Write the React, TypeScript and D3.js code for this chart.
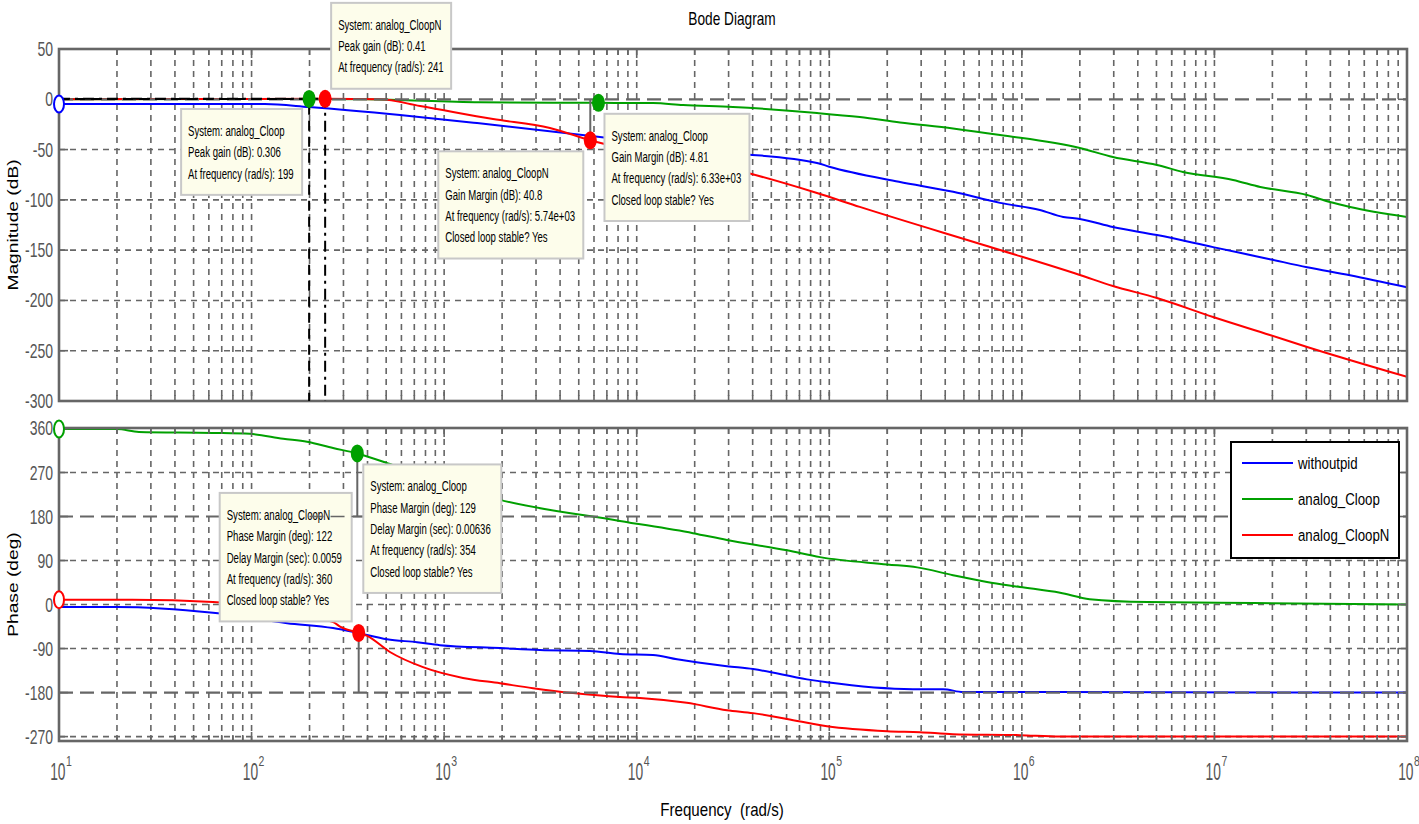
import React, { useRef, useEffect } from 'react';
import * as d3 from 'd3';

const WIDTH = 1419;
const HEIGHT = 824;

// ---- series ----
const seriesNames = ['withoutpid', 'analog_Cloop', 'analog_CloopN'];
const seriesColors = ['#0000ff', '#00a000', '#ff0000'];

// ---- axis ticks ----
const magTicks = [50, 0, -50, -100, -150, -200, -250, -300];
const phaseTicks = [360, 270, 180, 90, 0, -90, -180, -270];
const decadeExps = [1, 2, 3, 4, 5, 6, 7, 8];

// ---- magnitude (dB) ----
const blueMagFreq = [10, 117, 199, 590, 1482, 6440, 31600, 86300, 1e5, 2.3e5, 4.4e5, 7.7e5, 1.24e6, 1.64e6, 2e6, 2.97e6, 5.03e6, 9.84e6, 1.94e7, 3.03e7, 5.06e7, 1e8];
const blueMagDb = [-4.7, -4.7, -7.7, -15.6, -23.6, -37.5, -53.4, -63.3, -67, -82, -92, -103, -110, -117, -119, -127, -135, -147, -159, -167, -175, -187];

const greenMagFreq = [10, 199, 400, 1536, 6330, 12150, 17400, 31600, 86300, 144000, 233000, 439000, 771000, 2e6, 2.97e6, 5.03e6, 6.87e6, 1.25e7, 1.73e7, 3.03e7, 3.98e7, 5.06e7, 1e8];
const greenMagDb = [0, 0.3, 0, -3, -3.5, -3.8, -5.7, -7.7, -13.6, -17.7, -23, -29, -35.5, -48.4, -57.4, -65.3, -72.3, -80.2, -87.2, -95.2, -102.2, -107.1, -117];

const redMagFreq = [10, 241, 464, 750, 1794, 3545, 5740, 37800, 86300, 144000, 771000, 2e6, 2.97e6, 5.03e6, 9.84e6, 1.94e7, 3.03e7, 1e8];
const redMagDb = [0, 0.41, 0, -6.7, -19.7, -28.5, -40.8, -73.3, -93.2, -107, -149.9, -174.7, -185.6, -197.6, -216.5, -234.4, -246.3, -276];

// ---- phase (deg) ----
const bluePhFreq = [10, 20, 63, 153, 265, 357, 505, 723, 951, 1950, 3145, 5720, 8180, 12150, 16200, 29400, 40200, 76600, 97300, 272000, 390000, 495000, 1.58e6, 1e8];
const bluePhDeg = [-5, -5, -17, -38, -48, -58, -71, -77, -83, -89, -93, -95, -101, -103, -112, -126, -132, -153, -159, -173, -173, -179, -179, -180];

const greenPhFreq = [10, 20, 26, 63, 98, 146, 194, 265, 354, 543, 1950, 8180, 19600, 29400, 60300, 89500, 200000, 286000, 439000, 659000, 978000, 1.58e6, 2.25e6, 4.5e6, 1.6e7, 1e8];
const greenPhDeg = [359, 359, 353, 351, 349, 339, 333, 320, 309, 285, 214, 171, 146, 132, 111, 97, 82, 76, 60, 46, 36, 24, 11, 5, 3, 0];

const redPhFreq = [10, 24, 63, 265, 288, 360, 398, 523, 777, 1253, 1950, 2893, 4670, 8180, 10400, 18200, 29400, 40200, 60300, 97300, 200000, 296000, 439000, 978000, 1.58e6, 1e8];
const redPhDeg = [10, 10, 5, -36, -45, -58, -64, -97, -128, -150, -161, -171, -181, -189, -191, -201, -216, -222, -234, -249, -259, -261, -265, -267, -270, -270];

// ---- characteristic points ----
const peakFreq = [199, 241]; // analog_Cloop, analog_CloopN
const peakDb = [0.306, 0.41];
const gmFreq = [6330, 5740];
const gmDb = [-3.5, -40.8];
const pmFreq = [354, 360];
const pmDeg = [309, -58];

// ---- data tip texts ----
const tipPeakCloop = ['System: analog_Cloop', 'Peak gain (dB): 0.306', 'At frequency (rad/s): 199'];
const tipPeakCloopN = ['System: analog_CloopN', 'Peak gain (dB): 0.41', 'At frequency (rad/s): 241'];
const tipGmCloop = ['System: analog_Cloop', 'Gain Margin (dB): 4.81', 'At frequency (rad/s): 6.33e+03', 'Closed loop stable? Yes'];
const tipGmCloopN = ['System: analog_CloopN', 'Gain Margin (dB): 40.8', 'At frequency (rad/s): 5.74e+03', 'Closed loop stable? Yes'];
const tipPmCloop = ['System: analog_Cloop', 'Phase Margin (deg): 129', 'Delay Margin (sec): 0.00636', 'At frequency (rad/s): 354', 'Closed loop stable? Yes'];
const tipPmCloopN = ['System: analog_CloopN', 'Phase Margin (deg): 122', 'Delay Margin (sec): 0.0059', 'At frequency (rad/s): 360', 'Closed loop stable? Yes'];

const FONT = 'Liberation Sans, Arial, sans-serif';
const GRAY = '#666666';

const App: React.FC = () => {
  const svgRef = useRef<SVGSVGElement>(null);

  useEffect(() => {
    if (!svgRef.current) return;
    const svg = d3.select(svgRef.current);
    svg.selectAll('*').remove();

    const left = 59;
    const right = 1407;
    const magTop = 49;
    const magBottom = 401;
    const phTop = 428;
    const phBottom = 741;

    const x = d3.scaleLog().domain([10, 1e8]).range([left, right]);
    const yMag = d3.scaleLinear().domain([-300, 50]).range([magBottom, magTop]);
    const yPh = d3.scaleLinear().domain([-279, 361]).range([phBottom, phTop]);

    const addText = (
      g: d3.Selection<any, unknown, null, undefined>,
      tx: number, ty: number, str: string,
      size: number, sx: number, anchor = 'start', fill = '#000', rotate = 0
    ) => {
      g.append('text')
        .attr('transform', `translate(${tx},${ty}) rotate(${rotate}) scale(${sx},1)`)
        .attr('text-anchor', anchor)
        .attr('font-family', FONT)
        .attr('font-size', size)
        .attr('fill', fill)
        .style('white-space', 'pre')
        .text(str);
    };

    // clip paths
    const defs = svg.append('defs');
    defs.append('clipPath').attr('id', 'clipMag')
      .append('rect').attr('x', left).attr('y', magTop).attr('width', right - left).attr('height', magBottom - magTop);
    defs.append('clipPath').attr('id', 'clipPh')
      .append('rect').attr('x', left).attr('y', phTop).attr('width', right - left).attr('height', phBottom - phTop);

    // grid frequencies
    const gridFreqs: { f: number; major: boolean }[] = [];
    for (let d = 1; d < 8; d++) {
      for (let m = 1; m <= 9; m++) gridFreqs.push({ f: m * Math.pow(10, d), major: m === 1 });
    }
    gridFreqs.push({ f: 1e8, major: true });

    const drawPanel = (
      top: number, bottom: number,
      yScale: d3.ScaleLinear<number, number>,
      ticks: number[], special: number[]
    ) => {
      const g = svg.append('g');
      // vertical grid
      gridFreqs.forEach(({ f }) => {
        const px = x(f);
        if (px <= left + 1 || px >= right - 1) return;
        g.append('line')
          .attr('x1', px).attr('x2', px).attr('y1', top).attr('y2', bottom)
          .attr('stroke', GRAY).attr('stroke-width', 1.6).attr('stroke-dasharray', '6,5');
      });
      // horizontal grid
      ticks.forEach(t => {
        const py = yScale(t);
        if (special.includes(t) || py <= top + 1 || py >= bottom - 1) return;
        g.append('line')
          .attr('x1', left).attr('x2', right).attr('y1', py).attr('y2', py)
          .attr('stroke', GRAY).attr('stroke-width', 1.6).attr('stroke-dasharray', '6,5');
      });
      return g;
    };

    const drawSpecial = (yScale: d3.ScaleLinear<number, number>, vals: number[]) => {
      vals.forEach(v => {
        svg.append('line')
          .attr('x1', left).attr('x2', right).attr('y1', yScale(v)).attr('y2', yScale(v))
          .attr('stroke', GRAY).attr('stroke-width', 2.2).attr('stroke-dasharray', '14,7');
      });
    };

    const drawFrame = (
      top: number, bottom: number,
      yScale: d3.ScaleLinear<number, number>, ticks: number[]
    ) => {
      const g = svg.append('g');
      gridFreqs.forEach(({ f, major }) => {
        const px = x(f);
        const len = major ? 9 : 6;
        g.append('line').attr('x1', px).attr('x2', px).attr('y1', bottom).attr('y2', bottom - len)
          .attr('stroke', GRAY).attr('stroke-width', 1.6);
        g.append('line').attr('x1', px).attr('x2', px).attr('y1', top).attr('y2', top + len)
          .attr('stroke', GRAY).attr('stroke-width', 1.6);
      });
      ticks.forEach(t => {
        const py = yScale(t);
        g.append('line').attr('x1', left).attr('x2', left + 9).attr('y1', py).attr('y2', py)
          .attr('stroke', GRAY).attr('stroke-width', 1.6);
        g.append('line').attr('x1', right).attr('x2', right - 9).attr('y1', py).attr('y2', py)
          .attr('stroke', GRAY).attr('stroke-width', 1.6);
        addText(g, 53, py + 7, String(t), 20, 0.7, 'end', '#555');
      });
      g.append('rect')
        .attr('x', left).attr('y', top).attr('width', right - left).attr('height', bottom - top)
        .attr('fill', 'none').attr('stroke', GRAY).attr('stroke-width', 2.6);
    };

    const line = (ys: d3.ScaleLinear<number, number>) =>
      d3.line<[number, number]>()
        .x(d => x(d[0]))
        .y(d => ys(d[1]))
        .curve(d3.curveMonotoneX);

    const zip = (a: number[], b: number[]) => a.map((v, i) => [v, b[i]] as [number, number]);

    // ---------- magnitude panel ----------
    drawPanel(magTop, magBottom, yMag, magTicks, [0]);
    const magCurves = [zip(blueMagFreq, blueMagDb), zip(greenMagFreq, greenMagDb), zip(redMagFreq, redMagDb)];
    const magG = svg.append('g').attr('clip-path', 'url(#clipMag)');
    magCurves.forEach((pts, i) => {
      magG.append('path').attr('d', line(yMag)(pts) as string)
        .attr('fill', 'none').attr('stroke', seriesColors[i]).attr('stroke-width', 2);
    });
    drawSpecial(yMag, [0]);
    drawFrame(magTop, magBottom, yMag, magTicks);

    // ---------- phase panel ----------
    drawPanel(phTop, phBottom, yPh, phaseTicks, [180, -180]);
    const phCurves = [zip(bluePhFreq, bluePhDeg), zip(greenPhFreq, greenPhDeg), zip(redPhFreq, redPhDeg)];
    const phG = svg.append('g').attr('clip-path', 'url(#clipPh)');
    phCurves.forEach((pts, i) => {
      phG.append('path').attr('d', line(yPh)(pts) as string)
        .attr('fill', 'none').attr('stroke', seriesColors[i]).attr('stroke-width', 2);
    });
    drawSpecial(yPh, [180, -180]);
    drawFrame(phTop, phBottom, yPh, phaseTicks);

    // ---------- characteristic lines & markers ----------
    const refG = svg.append('g');
    // peak gain reference lines (green dashed, red dash-dot)
    const peakDash = ['10,6', '11,5,3,5'];
    peakFreq.forEach((f, i) => {
      const px = x(f);
      const py = yMag(peakDb[i]);
      refG.append('path')
        .attr('d', `M${left},${py}H${px}V${magBottom}`)
        .attr('fill', 'none').attr('stroke', '#000').attr('stroke-width', 2)
        .attr('stroke-dasharray', peakDash[i]);
    });
    // gain margin lines
    gmFreq.forEach((f, i) => {
      refG.append('line').attr('x1', x(f)).attr('x2', x(f)).attr('y1', yMag(0)).attr('y2', yMag(gmDb[i]))
        .attr('stroke', GRAY).attr('stroke-width', 2);
    });
    // phase margin lines
    pmFreq.forEach((f, i) => {
      const target = i === 0 ? 180 : -180;
      refG.append('line').attr('x1', x(f)).attr('x2', x(f)).attr('y1', yPh(pmDeg[i])).attr('y2', yPh(target))
        .attr('stroke', GRAY).attr('stroke-width', 2);
    });

    const filled = (px: number, py: number, color: string) =>
      refG.append('ellipse').attr('cx', px).attr('cy', py).attr('rx', 6.5).attr('ry', 9).attr('fill', color);
    const open = (px: number, py: number, color: string) =>
      refG.append('ellipse').attr('cx', px).attr('cy', py).attr('rx', 5).attr('ry', 8.5)
        .attr('fill', '#fff').attr('stroke', color).attr('stroke-width', 2);

    open(x(blueMagFreq[0]), yMag(blueMagDb[0]), seriesColors[0]);
    open(x(greenPhFreq[0]), yPh(greenPhDeg[0]), seriesColors[1]);
    open(x(redPhFreq[0]), yPh(redPhDeg[0]), seriesColors[2]);

    filled(x(peakFreq[0]), yMag(peakDb[0]), seriesColors[1]);
    filled(x(peakFreq[1]), yMag(peakDb[1]), seriesColors[2]);
    filled(x(gmFreq[0]), yMag(gmDb[0]), seriesColors[1]);
    filled(x(gmFreq[1]), yMag(gmDb[1]), seriesColors[2]);
    filled(x(pmFreq[0]), yPh(pmDeg[0]), seriesColors[1]);
    filled(x(pmFreq[1]), yPh(pmDeg[1]), seriesColors[2]);

    // ---------- data tips ----------
    const drawTip = (px: number, py: number, dx: number, dy: number, w: number, lines: string[]) => {
      const g = svg.append('g');
      const bx = px + dx;
      const by = py + dy;
      const h = 22 + lines.length * 21.3;
      g.append('rect').attr('x', bx).attr('y', by).attr('width', w).attr('height', h)
        .attr('fill', '#fdfdeb').attr('stroke', '#c8c8c8').attr('stroke-width', 2);
      lines.forEach((s, i) => addText(g, bx + 7, by + 27 + i * 21.3, s, 15, 0.64));
    };

    drawTip(x(peakFreq[1]), yMag(peakDb[1]), 6, -96, 120, tipPeakCloopN);
    drawTip(x(peakFreq[0]), yMag(peakDb[0]), -128, 10, 121, tipPeakCloop);
    drawTip(x(gmFreq[1]), yMag(gmDb[1]), -152, 11, 145, tipGmCloopN);
    drawTip(x(gmFreq[0]), yMag(gmDb[0]), 6, 11, 145, tipGmCloop);
    drawTip(x(pmFreq[1]), yPh(pmDeg[1]), -139, -140, 132, tipPmCloopN);
    // the 180 deg reference line runs over the first phase tip
    svg.append('line')
      .attr('x1', x(200)).attr('x2', x(1000)).attr('y1', yPh(180)).attr('y2', yPh(180))
      .attr('stroke', GRAY).attr('stroke-width', 1.6).attr('stroke-dasharray', '14,7');
    drawTip(x(pmFreq[0]), yPh(pmDeg[0]), 6, 11, 138, tipPmCloop);

    // ---------- x tick labels ----------
    const xl = svg.append('g');
    decadeExps.forEach(e => {
      const px = x(Math.pow(10, e));
      addText(xl, px + 6.5, 780, '10', 23, 0.6, 'end', '#555');
      addText(xl, px + 7, 766, String(e), 15, 0.7, 'start', '#555');
    });

    // ---------- titles ----------
    addText(svg, 732, 25, 'Bode Diagram', 18, 0.76, 'middle');
    addText(svg, 722, 816, 'Frequency  (rad/s)', 18, 0.84, 'middle');
    addText(svg, 18, (magTop + magBottom) / 2, 'Magnitude (dB)', 15, 1.28, 'middle', '#000', -90);
    addText(svg, 18, (phTop + phBottom) / 2, 'Phase (deg)', 15, 1.28, 'middle', '#000', -90);

    // ---------- legend ----------
    const lg = svg.append('g');
    lg.append('rect').attr('x', 1231).attr('y', 442).attr('width', 168).attr('height', 116)
      .attr('fill', '#fff').attr('stroke', '#000').attr('stroke-width', 2);
    seriesNames.forEach((name, i) => {
      const ly = 463 + i * 36;
      lg.append('line').attr('x1', 1242).attr('x2', 1293).attr('y1', ly).attr('y2', ly)
        .attr('stroke', seriesColors[i]).attr('stroke-width', 2);
      addText(lg, 1298, ly + 6, name, 17, 0.78);
    });
  }, []);

  return (
    <div style={{ position: 'absolute', left: 0, top: 0 }}>
      <svg ref={svgRef} width={WIDTH} height={HEIGHT} style={{ display: 'block', background: '#fff' }} />
    </div>
  );
};

export default App;
